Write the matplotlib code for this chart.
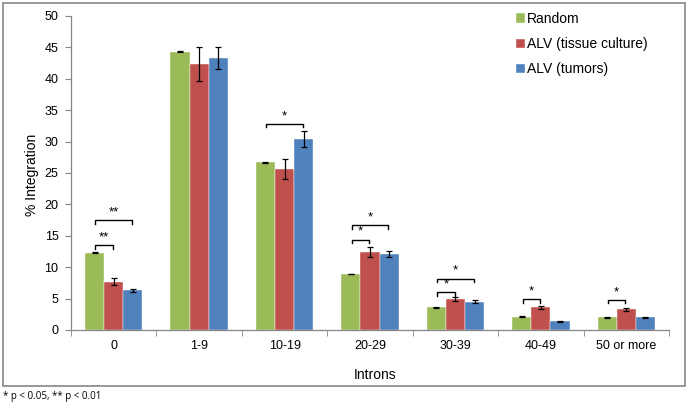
import numpy as np
import matplotlib
matplotlib.use('Agg')
import matplotlib.pyplot as plt
from matplotlib.patches import Rectangle

plt.rcParams['font.family'] = ['Liberation Sans', 'DejaVu Sans']

# Data
categories = ['0', '1-9', '10-19', '20-29', '30-39', '40-49', '50 or more']
series_names = ['Random', 'ALV (tissue culture)', 'ALV (tumors)']
random_pct = [12.3, 44.3, 26.7, 8.9, 3.6, 2.1, 2.0]
random_err = [0.05, 0.05, 0.05, 0.05, 0.05, 0.05, 0.05]
tissue_pct = [7.7, 42.4, 25.7, 12.4, 4.9, 3.6, 3.3]
tissue_err = [0.55, 2.7, 1.6, 0.8, 0.3, 0.25, 0.25]
tumor_pct = [6.3, 43.3, 30.4, 12.1, 4.5, 1.4, 2.0]
tumor_err = [0.25, 1.7, 1.25, 0.5, 0.2, 0.1, 0.1]

# significance brackets: (category, series a, series b, bracket level, label)
sig_cat = [0, 0, 2, 3, 3, 4, 4, 5, 6]
sig_a = [0, 0, 0, 0, 0, 0, 0, 0, 0]
sig_b = [1, 2, 2, 1, 2, 1, 2, 1, 1]
sig_level = [13.5, 17.5, 32.8, 14.4, 16.7, 6.0, 8.2, 4.9, 4.8]
sig_label = ['**', '**', '*', '*', '*', '*', '*', '*', '*']

colors = ['#9BBB59', '#C0504D', '#4F81BD']
values = [random_pct, tissue_pct, tumor_pct]
errors = [random_err, tissue_err, tumor_err]

W, H = 688, 405
fig = plt.figure(figsize=(W / 100, H / 100), dpi=100)
ax = fig.add_axes([71 / W, 1 - 330 / H, 598 / W, 314 / H])

x = np.arange(len(categories))
bw = 0.224
offsets = [-bw, 0, bw]
for k in range(3):
    ax.bar(x + offsets[k], values[k], width=bw, color=colors[k],
           edgecolor='white', linewidth=0.3, label=series_names[k], zorder=2)
    ax.errorbar(x + offsets[k], values[k], yerr=errors[k], fmt='none',
                ecolor='black', elinewidth=0.9, capsize=2.5, capthick=0.9, zorder=3)

# significance brackets
tick = 0.55
for c, a, b, lev, lab in zip(sig_cat, sig_a, sig_b, sig_level, sig_label):
    x1 = c + offsets[a] + 0.01
    x2 = c + offsets[b] - 0.01
    ax.plot([x1, x1, x2, x2], [lev - tick, lev, lev, lev - tick],
            color='black', lw=1.0, zorder=4)
    ax.text((x1 + x2) / 2, lev + 0.3, lab, ha='center', va='bottom',
            fontsize=9.5, zorder=4)

ax.set_xlim(-0.5, len(categories) - 0.5)
ax.set_ylim(0, 50)
ax.set_yticks(np.arange(0, 51, 5))
ax.set_xticks(x)
ax.set_xticklabels(categories)
ax.set_xticks(np.arange(-0.5, len(categories)), minor=True)
ax.tick_params(axis='x', which='major', length=0, pad=7, labelsize=9)
ax.tick_params(axis='x', which='minor', length=4, color='#868686', direction='out')
ax.tick_params(axis='y', length=4, color='#868686', direction='out', labelsize=9, pad=5)

for s in ['top', 'right']:
    ax.spines[s].set_visible(False)
for s in ['left', 'bottom']:
    ax.spines[s].set_color('#868686')
    ax.spines[s].set_linewidth(0.9)

fig.text(32 / W, 1 - 175 / H, '% Integration', rotation=90, ha='center',
         va='center', fontsize=10)
fig.text(375 / W, 1 - 375 / H, 'Introns', ha='center', va='center', fontsize=10)

fig.legend(loc='upper left', bbox_to_anchor=(516 / W, 1 - 12 / H), frameon=False,
           fontsize=10, handlelength=0.65, handleheight=0.65, handletextpad=0.15,
           labelspacing=0.8, borderpad=0, borderaxespad=0)

# outer chart frame
fig.patches.append(Rectangle((3 / W, 1 - 386 / H), 682 / W, 383 / H,
                             transform=fig.transFigure, fill=False,
                             edgecolor='#868686', linewidth=1.2))

fig.text(3 / W, 1 - 396 / H, '* p < 0.05, ** p < 0.01', ha='left', va='center',
         fontsize=7, family=['Open Sans', 'DejaVu Sans'])

fig.savefig('out.png', dpi=100)
